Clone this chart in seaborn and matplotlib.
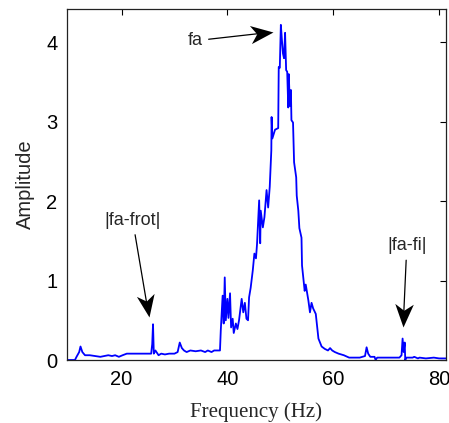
import matplotlib
matplotlib.use("Agg")
import numpy as np
import matplotlib.pyplot as plt
from matplotlib.path import Path
import seaborn as sns
import pandas as pd

# Frequency (Hz) and amplitude
freq = [9.7, 11.2, 11.5, 12.0, 12.25, 12.6, 13.1, 14.0, 15.0, 16.0, 16.8, 17.5, 18.2, 18.8,
        19.5, 20.2, 21.0, 23.0, 25.0, 25.6, 25.8, 25.95, 26.1, 26.4, 27.0, 27.5, 28.2, 29.0,
        30.0, 30.6, 31.0, 31.4, 31.8, 32.3, 33.0, 34.0, 35.0, 35.8, 36.3, 37.0, 37.5, 38.0,
        38.6, 38.75, 39.1, 39.3, 39.5, 39.7, 40.0, 40.2, 40.5, 40.7, 41.0, 41.2, 41.6, 41.9,
        42.2, 42.7, 43.0, 43.3, 43.6, 43.9, 44.1, 44.4, 44.8, 45.1, 45.4, 45.6, 46.0, 46.2,
        46.3, 46.7, 47.0, 47.4, 47.7, 48.0, 48.3, 48.35, 48.5, 49.0, 49.6, 49.7, 49.9, 50.1,
        50.3, 50.5, 50.7, 50.9, 51.1, 51.3, 51.5, 51.6, 51.8, 52.0, 52.1, 52.4, 52.6, 53.0,
        53.1, 53.4, 53.6, 54.0, 54.1, 54.6, 54.8, 55.3, 55.6, 55.9, 56.2, 56.7, 57.2, 57.8,
        58.4, 59.0, 59.4, 59.8, 60.3, 61.0, 62.0, 63.0, 64.0, 65.0, 66.0, 66.3, 66.6, 67.0,
        67.8, 68.0, 68.3, 70.0, 72.5, 72.9, 73.1, 73.3, 73.5, 73.6, 73.8, 75.0, 75.3, 76.0,
        76.3, 77.5, 79.0, 80.0, 81.3]
amp = [0.00, 0.00, 0.04, 0.10, 0.17, 0.10, 0.06, 0.06, 0.05, 0.04, 0.05, 0.06, 0.05, 0.06,
       0.04, 0.06, 0.08, 0.08, 0.08, 0.08, 0.20, 0.45, 0.08, 0.12, 0.06, 0.08, 0.07, 0.08,
       0.08, 0.10, 0.22, 0.15, 0.12, 0.10, 0.12, 0.11, 0.12, 0.10, 0.12, 0.10, 0.12, 0.12,
       0.12, 0.37, 0.81, 0.46, 1.04, 0.50, 0.77, 0.53, 0.84, 0.41, 0.52, 0.34, 0.46, 0.39,
       0.50, 0.77, 0.60, 0.72, 0.52, 0.50, 0.79, 0.91, 1.13, 1.34, 1.28, 1.46, 2.01, 1.47,
       1.88, 1.67, 1.80, 2.14, 1.92, 2.18, 2.64, 3.06, 2.79, 2.90, 2.92, 3.69, 3.68, 4.22,
       4.03, 3.86, 3.80, 4.12, 3.65, 3.63, 3.18, 3.60, 3.20, 3.40, 3.02, 2.99, 2.49, 2.30,
       2.07, 1.88, 1.66, 1.54, 1.19, 0.87, 0.95, 0.75, 0.60, 0.72, 0.65, 0.58, 0.27, 0.17,
       0.14, 0.12, 0.15, 0.12, 0.10, 0.08, 0.06, 0.03, 0.03, 0.03, 0.05, 0.16, 0.08, 0.04,
       0.04, 0.00, 0.03, 0.03, 0.03, 0.06, 0.27, 0.10, 0.22, 0.00, 0.03, 0.03, 0.04, 0.02,
       0.03, 0.02, 0.03, 0.02, 0.02]

xticks = [20, 40, 60, 80]
yticks = [0, 1, 2, 3, 4]

# annotations: label, text position, arrow tip
ann_labels = ["fa", "|fa-frot|", "|fa-fi|"]
ann_text = [(33.9, 4.02), (22.1, 1.76), (73.9, 1.44)]
ann_tip = [(48.6, 4.13), (25.2, 0.54), (73.2, 0.41)]

sns.set_style("white")
plt.rcParams["font.family"] = ["Liberation Sans", "DejaVu Sans"]

df = pd.DataFrame({"Frequency": freq, "Amplitude": amp})

fig = plt.figure(figsize=(4.49, 4.23), dpi=100)
ax = fig.add_axes([67 / 449, 1 - 360 / 423, (446 - 67) / 449, (360 - 9) / 423])

sns.lineplot(data=df, x="Frequency", y="Amplitude", ax=ax, color="#0000ff",
             linewidth=1.3, estimator=None, sort=False)

ax.set_xlim(9.7, 81.3)
ax.set_ylim(0, 4.42)
ax.set_xticks(xticks)
ax.set_yticks(yticks)
ax.tick_params(direction="in", length=4, width=0.8, top=True, right=True,
               labelsize=14.5, colors="black", pad=7)
for s in ax.spines.values():
    s.set_visible(True)
    s.set_color("#222222")
    s.set_linewidth(0.9)

ax.set_ylabel("Amplitude", fontsize=14.5, labelpad=8)
ax.set_xlabel("Frequency (Hz)", fontsize=15, family=["Liberation Serif", "DejaVu Serif"],
              labelpad=10)

# notched (swept-back) arrow head, tip at origin pointing +x
L, W, N = 1.0, 0.8, 0.72
head = np.array([[0, 0], [-L, W / 2], [-N * L, 0], [-L, -W / 2], [0, 0]])
codes = [Path.MOVETO, Path.LINETO, Path.LINETO, Path.LINETO, Path.CLOSEPOLY]

for lab, (tx, ty), (px, py) in zip(ann_labels, ann_text, ann_tip):
    ax.annotate(lab, xy=(px, py), xytext=(tx, ty), fontsize=13, ha="center", va="center",
                arrowprops=dict(arrowstyle="-", color="black", lw=0.9,
                                shrinkA=2, shrinkB=4))
    p0 = ax.transData.transform((tx, ty))
    p1 = ax.transData.transform((px, py))
    ang = np.arctan2(p1[1] - p0[1], p1[0] - p0[0])
    R = np.array([[np.cos(ang), -np.sin(ang)], [np.sin(ang), np.cos(ang)]])
    verts = head @ R.T
    ax.plot([px], [py], marker=Path(verts, codes), markersize=34, color="black",
            markeredgewidth=0, linestyle="none", clip_on=False, zorder=5)

fig.savefig("out.png", dpi=100)
